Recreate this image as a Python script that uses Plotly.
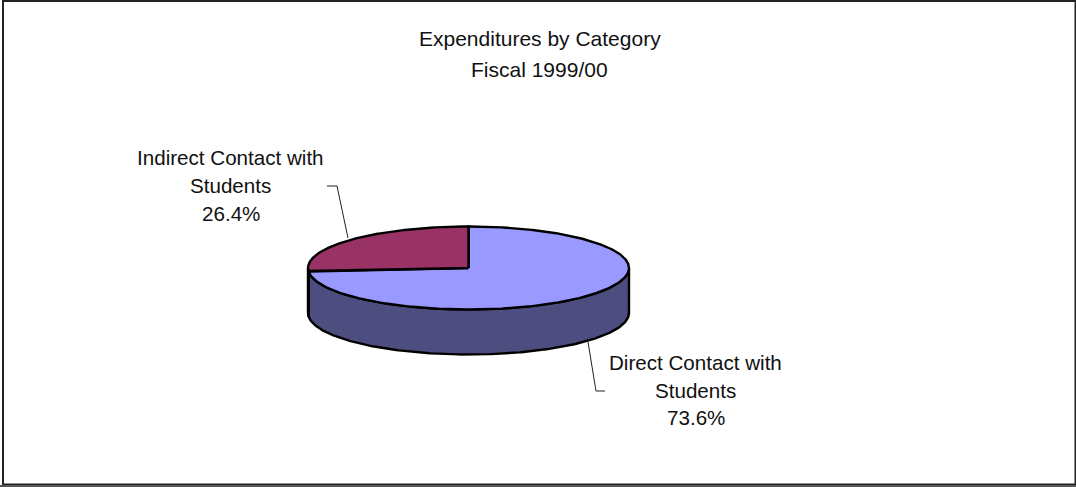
import numpy as np
import plotly.graph_objects as go

# Expenditure shares, fiscal 1999/00
categories = ["Direct Contact with Students", "Indirect Contact with Students"]
shares = [73.6, 26.4]
label_lines = [["Direct Contact with", "Students"], ["Indirect Contact with", "Students"]]
title_lines = ["Expenditures by Category", "Fiscal 1999/00"]

top_colors = ["#9999FF", "#993366"]
wall_colors = ["#4D4D80", "#4D1A33"]

# Tilted-disc geometry in page pixels
CX, CY, RX, RY, DEPTH = 468.5, 268.0, 160.5, 41.5, 45.0
WIDTH, HEIGHT = 1076, 487
FONT = "Liberation Sans, Arial, sans-serif"
TITLE_SIZE = 21
LABEL_SIZE = 20.6
EDGE_WIDTH = 2.4


def rim(a0, a1):
    """Points on the top rim between two clockwise angles measured from 12 o'clock (degrees)."""
    t = np.radians(np.linspace(a0, a1, max(int(abs(a1 - a0)) * 2, 2) + 1))
    return CX + RX * np.sin(t), CY - RY * np.cos(t)


fig = go.Figure()

# Outer chart frame
fig.add_shape(type="rect", x0=3, x1=1075.5, y0=1, y1=484.5,
              line=dict(color="#222222", width=2), fillcolor="white", layer="below")
fig.add_shape(type="line", x0=0, x1=WIDTH, y0=486, y1=486,
              line=dict(color="#555555", width=2), layer="below")

# Leader lines from the labels to the disc
fig.add_trace(go.Scatter(x=[327, 337, 348], y=[186, 186, 238], mode="lines",
                         line=dict(color="#222222", width=1), hoverinfo="skip"))
fig.add_trace(go.Scatter(x=[588, 596, 605], y=[342, 391, 391], mode="lines",
                         line=dict(color="#222222", width=1), hoverinfo="skip"))

# Slice boundaries: first slice starts at 12 o'clock and runs clockwise
angles = np.concatenate([[0], np.cumsum(shares) / np.sum(shares) * 360])

# Outer wall, only the part of each slice on the near half of the rim
for i in range(len(shares)):
    a0, a1 = max(angles[i], 90), min(angles[i + 1], 270)
    if a1 <= a0:
        continue
    x, y = rim(a0, a1)
    fig.add_trace(go.Scatter(
        x=np.concatenate([x, x[::-1], x[:1]]),
        y=np.concatenate([y, y[::-1] + DEPTH, y[:1]]),
        mode="lines", fill="toself", fillcolor=wall_colors[i],
        line=dict(color="black", width=EDGE_WIDTH), hoverinfo="skip"))

# Top faces
for i in range(len(shares)):
    x, y = rim(angles[i], angles[i + 1])
    fig.add_trace(go.Scatter(
        x=np.concatenate([[CX], x, [CX]]),
        y=np.concatenate([[CY], y, [CY]]),
        mode="lines", fill="toself", fillcolor=top_colors[i],
        line=dict(color="black", width=EDGE_WIDTH), hoverinfo="skip"))


def add_text(x, y, text, size):
    fig.add_annotation(x=x, y=y, text=text, showarrow=False, xanchor="center", yanchor="middle",
                       font=dict(family=FONT, size=size, color="#111111"))


# Title, two lines
for y, line in zip([38, 69], title_lines):
    add_text(539.5, y, line, TITLE_SIZE)

# Slice labels: name lines followed by the share
label_places = [(695.5, [362, 390, 417]), (230.5, [157, 185, 213])]
for (x, ys), lines, share in zip(label_places, label_lines, shares):
    for y, line in zip(ys, lines + [f"{share:.1f}%"]):
        add_text(x, y, line, LABEL_SIZE)

fig.update_layout(
    width=WIDTH, height=HEIGHT, margin=dict(l=0, r=0, t=0, b=0),
    paper_bgcolor="white", plot_bgcolor="white", showlegend=False,
    xaxis=dict(range=[0, WIDTH], visible=False, fixedrange=True),
    yaxis=dict(range=[HEIGHT, 0], visible=False, fixedrange=True),
)

fig.write_html("out.html", config=dict(displayModeBar=False))
